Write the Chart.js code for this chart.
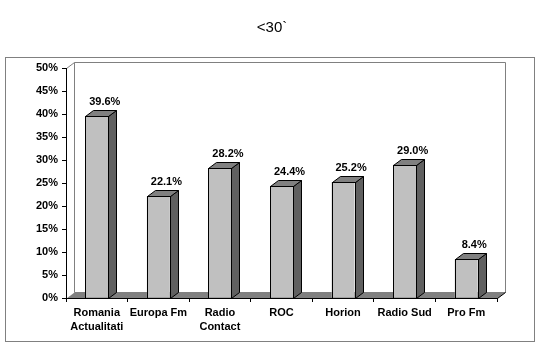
<!DOCTYPE html>
<html><head><meta charset="utf-8">
<script src="https://cdn.jsdelivr.net/npm/chart.js@4"></script>
<style>html,body{margin:0;padding:0;background:#fff}#wrap{width:544px;height:357px}</style>
</head><body><div id="wrap"><canvas id="c" width="544" height="357"></canvas></div>
<script>
const categories = [["Romania","Actualitati"],"Europa Fm",["Radio","Contact"],"ROC","Horion","Radio Sud","Pro Fm"];
const values = [39.6, 22.1, 28.2, 24.4, 25.2, 29.0, 8.4];
const yTicks = [0,5,10,15,20,25,30,35,40,45,50];
const titleText = "<30`";

const DX = 8, DY = 6;
const FONT = "'Liberation Sans', Arial, sans-serif";

const depthPlugin = {
  id: 'depth3d',
  beforeDraw(chart) {
    const ctx = chart.ctx, a = chart.chartArea;
    ctx.save();
    // outer frame
    ctx.strokeStyle = '#808080'; ctx.lineWidth = 1;
    ctx.strokeRect(5.5, 57.5, 529, 284);
    const L = a.left, R = a.right, T = a.top, B = a.bottom;
    // back wall
    ctx.fillStyle = '#ffffff';
    ctx.beginPath();
    ctx.moveTo(L + DX + 0.5, T - DY + 0.5);
    ctx.lineTo(R + DX + 0.5, T - DY + 0.5);
    ctx.lineTo(R + DX + 0.5, B - DY + 0.5);
    ctx.lineTo(L + DX + 0.5, B - DY + 0.5);
    ctx.closePath(); ctx.fill(); ctx.stroke();
    // left wall top diagonal
    ctx.beginPath();
    ctx.moveTo(L + 0.5, T + 0.5); ctx.lineTo(L + DX + 0.5, T - DY + 0.5); ctx.stroke();
    // floor
    ctx.fillStyle = '#808080';
    ctx.beginPath();
    ctx.moveTo(L + 0.5, B + 0.5);
    ctx.lineTo(R + 0.5, B + 0.5);
    ctx.lineTo(R + DX + 0.5, B - DY + 0.5);
    ctx.lineTo(L + DX + 0.5, B - DY + 0.5);
    ctx.closePath(); ctx.fill();
    ctx.strokeStyle = '#000';
    ctx.beginPath();
    ctx.moveTo(R + 0.5, B + 0.5); ctx.lineTo(R + DX + 0.5, B - DY + 0.5); ctx.stroke();
    ctx.restore();
  },
  afterDatasetsDraw(chart) {
    const ctx = chart.ctx;
    const meta = chart.getDatasetMeta(0);
    ctx.save();
    ctx.strokeStyle = '#000'; ctx.lineWidth = 1; ctx.lineJoin = 'miter';
    meta.data.forEach((bar, i) => {
      const p = bar.getProps(['x','y','base','width'], true);
      const l = Math.round(p.x - p.width / 2) + 0.5;
      const r = Math.round(p.x + p.width / 2) + 0.5;
      const t = Math.round(p.y) + 0.5;
      const b = Math.round(p.base) + 0.5;
      // side face
      ctx.fillStyle = '#606060';
      ctx.beginPath();
      ctx.moveTo(r, t); ctx.lineTo(r + DX, t - DY); ctx.lineTo(r + DX, b - DY); ctx.lineTo(r, b);
      ctx.closePath(); ctx.fill(); ctx.stroke();
      // top face
      ctx.fillStyle = '#808080';
      ctx.beginPath();
      ctx.moveTo(l, t); ctx.lineTo(l + DX, t - DY); ctx.lineTo(r + DX, t - DY); ctx.lineTo(r, t);
      ctx.closePath(); ctx.fill(); ctx.stroke();
      // front outline
      ctx.strokeRect(l, t, r - l, b - t);
      // value label
      ctx.fillStyle = '#000';
      ctx.font = 'bold 11px ' + FONT;
      ctx.textAlign = 'center'; ctx.textBaseline = 'middle';
      ctx.fillText(values[i].toFixed(1) + '%', p.x + DX, p.y - DY - 8);
    });
    ctx.restore();
  }
};

new Chart(document.getElementById('c'), {
  type: 'bar',
  data: {
    labels: categories,
    datasets: [{
      data: values,
      backgroundColor: '#C0C0C0',
      borderWidth: 0,
      barPercentage: 0.373,
      categoryPercentage: 1.0
    }]
  },
  options: {
    responsive: false,
    animation: false,
    events: [],
    layout: { padding: { left: 0, right: 0, top: 0, bottom: 0 } },
    plugins: {
      legend: { display: false },
      tooltip: { enabled: false },
      title: {
        display: true, text: titleText, color: '#000',
        font: { family: FONT, size: 15, weight: 'normal', lineHeight: 1.2 },
        padding: { top: 19, bottom: 31 }
      }
    },
    scales: {
      x: {
        grid: { display: true, drawOnChartArea: false, drawTicks: true, tickLength: 4, color: '#000', offset: true },
        border: { display: true, color: '#000', width: 1 },
        ticks: { color: '#000', font: { family: FONT, size: 11, weight: 'bold', lineHeight: 1.3 }, padding: 4, maxRotation: 0, autoSkip: false },
        afterFit(s) { s.height = 59; }
      },
      y: {
        min: yTicks[0], max: yTicks[yTicks.length - 1],
        afterBuildTicks(s) { s.ticks = yTicks.map(v => ({ value: v })); },
        grid: { display: true, drawOnChartArea: false, drawTicks: true, tickLength: 4, color: '#000' },
        border: { display: true, color: '#000', width: 1 },
        ticks: { color: '#000', font: { family: FONT, size: 11, weight: 'bold' }, padding: 4, callback: v => v + '%' },
        afterFit(s) { s.width = 66; }
      },
      yRight: {
        position: 'right', min: 0, max: 1,
        grid: { display: false }, border: { display: false },
        ticks: { display: false },
        afterFit(s) { s.width = 47; }
      }
    }
  },
  plugins: [depthPlugin]
});
</script>
</body></html>
